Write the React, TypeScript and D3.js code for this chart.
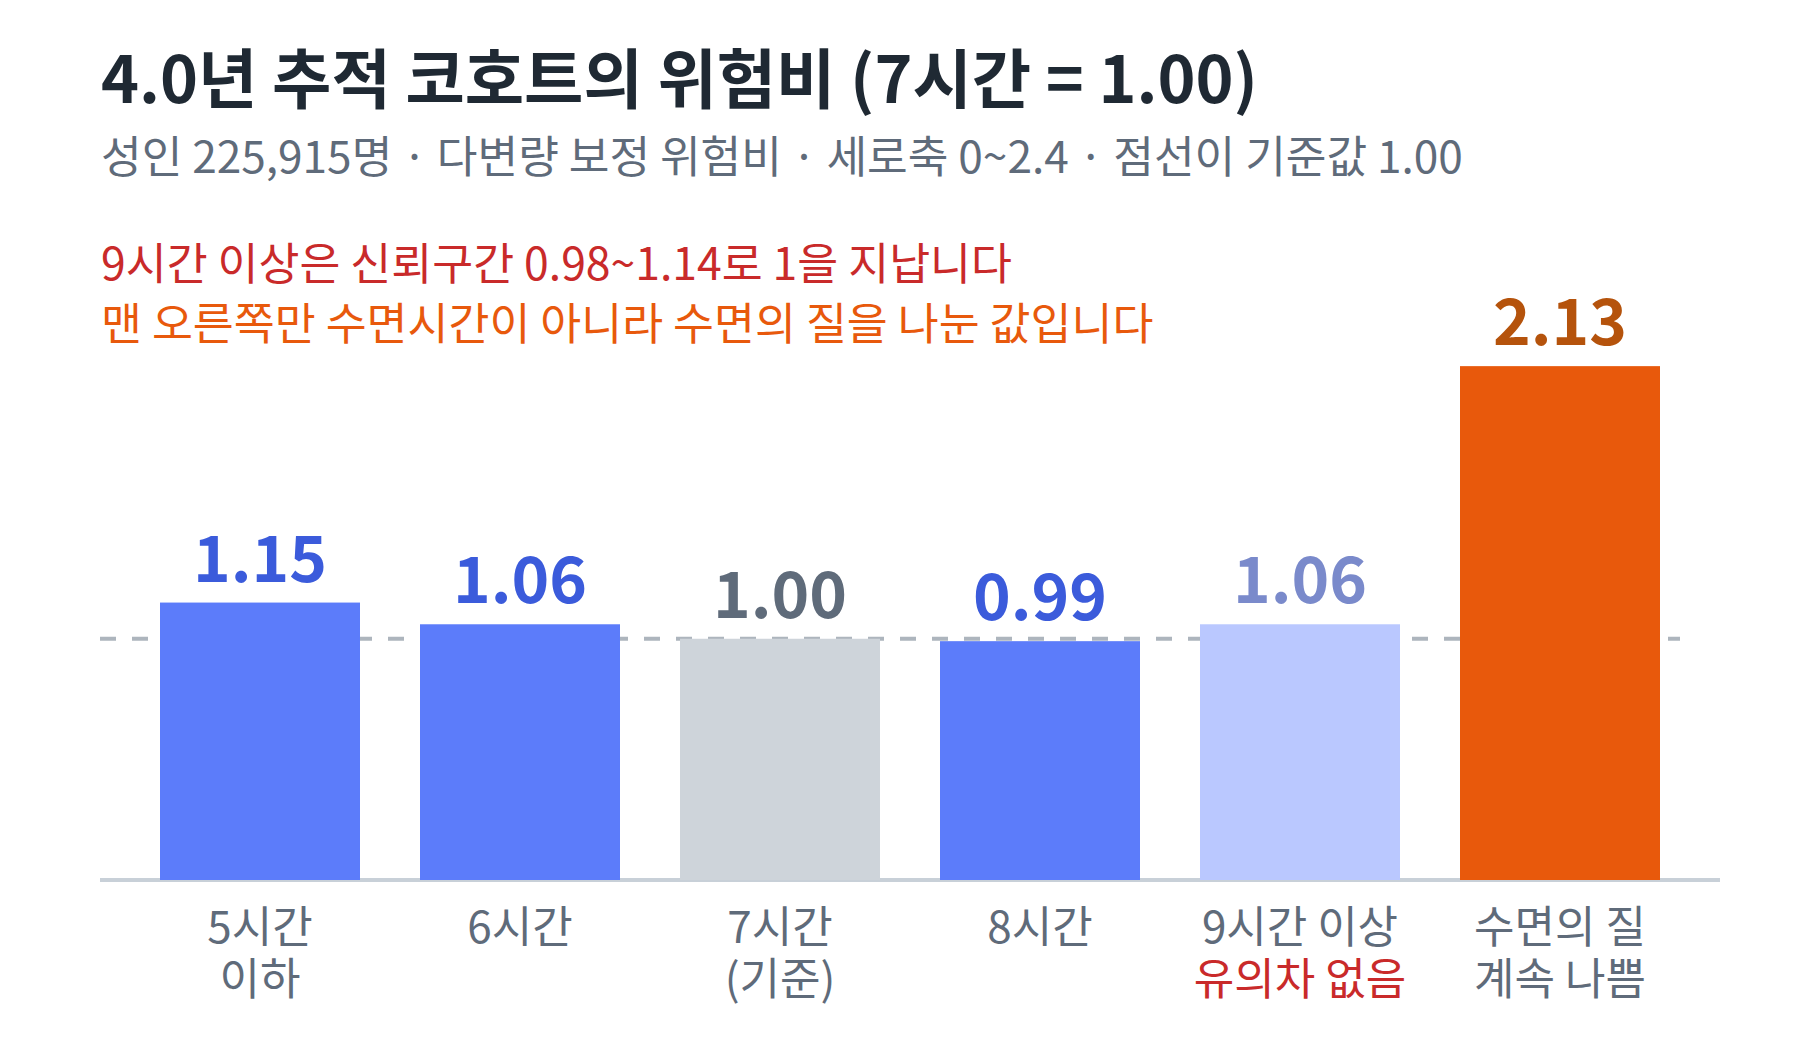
import React, { useEffect } from "react";
import * as d3 from "d3";

const categoriesTop = ["5시간", "6시간", "7시간", "8시간", "9시간 이상", "수면의 질"];
const categoriesBottom = ["이하", "", "(기준)", "", "유의차 없음", "계속 나쁨"];
const hazardRatios = [1.15, 1.06, 1.0, 0.99, 1.06, 2.13];
const referenceValue = 1.0;
const yDomain = [0, 2.4];

const title = "4.0년 추적 코호트의 위험비 (7시간 = 1.00)";
const subtitle = "성인 225,915명 · 다변량 보정 위험비 · 세로축 0~2.4 · 점선이 기준값 1.00";
const noteRed = "9시간 이상은 신뢰구간 0.98~1.14로 1을 지납니다";
const noteOrange = "맨 오른쪽만 수면시간이 아니라 수면의 질을 나눈 값입니다";

const barFill = ["#5c7cfa", "#5c7cfa", "#ced4da", "#5c7cfa", "#bac8ff", "#e8590c"];
const labelFill = ["#3b5bdb", "#3b5bdb", "#5f6b7a", "#3b5bdb", "#7a8acb", "#b5530c"];
const bottomFill = ["#5f6b7a", "#5f6b7a", "#5f6b7a", "#5f6b7a", "#c92a2a", "#5f6b7a"];

const FONT = "'Noto Sans CJK KR', 'Noto Sans', sans-serif";

const App = () => {
  useEffect(() => {
    document.body.style.margin = "0";
  }, []);

  const width = 1800;
  const height = 1040;
  const left = 100;
  const right = 1720;
  const baseY = 880;
  const topY = 301;

  const x = d3
    .scaleBand<number>()
    .domain(d3.range(hazardRatios.length))
    .range([left, right])
    .paddingInner(60 / 260)
    .paddingOuter(60 / 260);

  const y = d3.scaleLinear().domain(yDomain).range([baseY, topY]);

  const cx = (i: number) => (x(i) as number) + x.bandwidth() / 2;

  return (
    <svg width={width} height={height} style={{ display: "block", background: "#fff" }} fontFamily={FONT}>
      <text x={101} y={103} fontSize={64.5} fontWeight={700} fill="#1f2933">
        {title}
      </text>
      <text x={101} y={173} fontSize={44.2} fill="#5f6b7a">
        {subtitle}
      </text>
      <text x={101} y={280} fontSize={44.5} fill="#c92a2a">
        {noteRed}
      </text>
      <text x={101} y={340} fontSize={44.5} fill="#e8590c">
        {noteOrange}
      </text>

      {/* axis baseline */}
      <line x1={left} x2={right} y1={y(0)} y2={y(0)} stroke="#c8d0d8" strokeWidth={4} />

      {/* reference dashed line, behind bars */}
      <line
        x1={left}
        x2={1680}
        y1={y(referenceValue)}
        y2={y(referenceValue)}
        stroke="#adb5bd"
        strokeWidth={4}
        strokeDasharray="16 16"
      />

      {hazardRatios.map((v, i) => (
        <g key={i}>
          <rect x={x(i)} y={y(v)} width={x.bandwidth()} height={y(0) - y(v)} fill={barFill[i]} />
          <text x={cx(i)} y={y(v) - 21} textAnchor="middle" fontSize={64} fontWeight={700} fill={labelFill[i]}>
            {v.toFixed(2)}
          </text>
          <text x={cx(i)} y={943} textAnchor="middle" fontSize={44} fill="#5f6b7a">
            {categoriesTop[i]}
          </text>
          {categoriesBottom[i] && (
            <text x={cx(i)} y={995} textAnchor="middle" fontSize={44} fill={bottomFill[i]}>
              {categoriesBottom[i]}
            </text>
          )}
        </g>
      ))}
    </svg>
  );
};

export default App;
